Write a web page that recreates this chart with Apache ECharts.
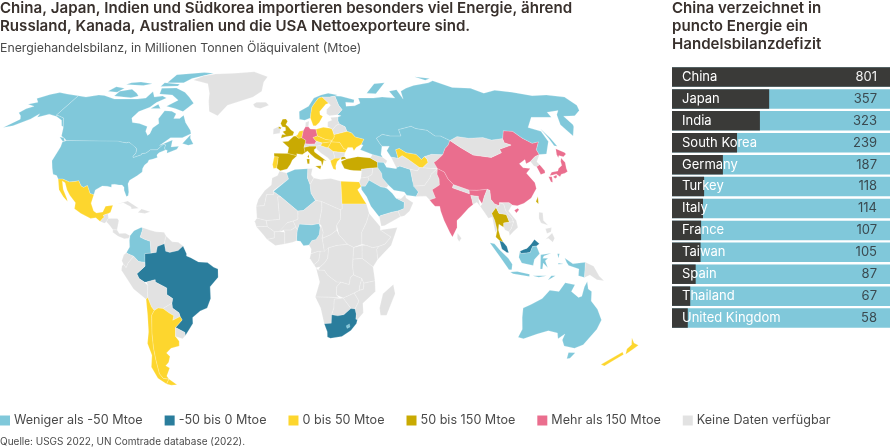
<!DOCTYPE html>
<html><head><meta charset="utf-8">
<style>html,body{margin:0;padding:0;background:#fff}#c{width:890px;height:448px}</style>
<script src="https://cdn.jsdelivr.net/npm/echarts@6/dist/echarts.min.js"></script>
</head><body><div id="c"></div>
<script>
// ---- chart data ----
const barCountries = ["China","Japan","India","South Korea","Germany","Turkey","Italy","France","Taiwan","Spain","Thailand","United Kingdom"];
const barValues = [801,357,323,239,187,118,114,107,105,87,67,58];
const classLabels = ["Weniger als -50 Mtoe","-50 bis 0 Mtoe","0 bis 50 Mtoe","50 bis 150 Mtoe","Mehr als 150 Mtoe","Keine Daten verfügbar"];
const classColors = ["#80c8da","#2a7d9c","#fdd62e","#c9aa02","#ea6e8e","#e2e2e2"];
const classBelow50 = ["Canada","USA","Colombia","Algeria","Nigeria","Russia","Kazakhstan","Saudi Arabia","Iran","Indonesia","Australia","Norway","Lesotho"];
const classMinus50to0 = ["Brazil","South Africa","Malaysia"];
const class0to50 = ["Mexico","Argentina","Chile","New Zealand","Egypt","Sweden","Poland","Ukraine","Romania","Hungary","Greece","Czechia","Benelux","Portugal","Uzbekistan"];
const class50to150 = ["France","United Kingdom","Italy","Spain","Turkey","Thailand","Taiwan"];
const classAbove150 = ["China","Japan","India","South Korea","Germany"];

// ---- country outlines, lon,lat ----
const outlines = {
USA:["-124.7,48.4 -123,49 -95.2,49 -94.6,48.7 -92,48.3 -89.5,48 -88.4,48.3 -84.9,46.9 -84.5,46.5 -83.5,46 -82.5,45.3 -82.1,43.6 -83,42.2 -82.7,41.7 -79,42.8 -79,43.3 -76.8,43.6 -75,45 -71.5,45 -70.3,46.2 -69.2,47.4 -67.8,47.1 -67.8,45.7 -67,44.9 -70,43.7 -70.7,42.7 -70,41.7 -72,41 -74,40.6 -74.2,39.5 -75.5,38.5 -76,37 -75.7,35.5 -77.8,33.9 -81,32 -81.4,30.5 -80.2,27 -80.2,25.5 -81,25.2 -82.7,27.8 -83,29.1 -84.2,30 -85.7,30 -88,30.3 -89.5,30.2 -89.3,29.1 -91.5,29.5 -94,29.6 -97,27.9 -97.2,25.9 -99.2,26.4 -101.4,29.8 -103.1,29 -104.5,29.6 -106.5,31.8 -108.2,31.5 -111,31.3 -114.8,32.5 -117.1,32.5 -118.5,34 -120.6,34.6 -122.4,37.2 -124.3,40.3 -124,44 -124,46.3",
"-141,69.6 -141,60.3 -139,60 -135,59 -130.5,55 -132,55.5 -135,58 -140,59.7 -146,60.8 -151,59.3 -152,61 -154,58.6 -160,55.5 -164.5,54.7 -160,58.5 -162,60 -165.5,61.5 -164,63.3 -161,64.5 -166.5,65.5 -162,66.5 -166,68.3 -161,70.3 -156.5,71.3 -150,70.5"],
Canada:["-141,69.6 -135,69 -128,70 -124,69.8 -115,68 -108,68 -100,68 -95,68.5 -94,71.8 -90,69 -85,69.5 -81.5,68.5 -86,66.3 -88,64 -93,62 -94.5,59 -92.5,57 -88,56.5 -82.5,55.2 -82,53 -79.8,51.2 -79,52 -79,54.5 -76.7,56.5 -78.5,58.7 -77.5,62.4 -73,62.2 -69.5,61 -69.5,58.8 -66,58.8 -64.5,60.3 -61.5,57 -57,53.5 -56,52 -60,50.2 -66.5,50.2 -71,46.8 -65,49.2 -64.5,46.2 -60.5,46.5 -61,45.2 -65.7,43.5 -66,44.8 -67,44.9 -67.8,45.7 -67.8,47.1 -69.2,47.4 -70.3,46.2 -71.5,45 -75,45 -76.8,43.6 -79,43.3 -79,42.8 -82.7,41.7 -83,42.2 -82.1,43.6 -82.5,45.3 -83.5,46 -84.5,46.5 -84.9,46.9 -88.4,48.3 -89.5,48 -92,48.3 -94.6,48.7 -95.2,49 -123,49 -125,50 -127.5,51 -130,54.5 -130.5,55 -135,59 -139,60 -141,60.3",
"-128,50.5 -125.5,50.2 -123.5,48.5 -125,48.8","-59,47.7 -56,51.5 -55.5,50 -53,47.5 -55.5,46.9","-62,66 -66,62 -72,63.5 -78,64.5 -73,67.5 -79,70 -88,70.5 -90,73.5 -80,73.7 -72,71.5 -67,69","-117,69.5 -105,68.7 -101,69.5 -104,71 -110,73 -117,72","-125,72 -118,71.5 -116,73.5 -123,74.3","-90,76.5 -78,76.5 -75,79 -62,82.5 -70,83 -90,81.5","-92,74.5 -80,74.7 -80,75.7 -92,76.6","-118,75.5 -105,75 -100,76 -110,77 -116,76.5","-87,63.5 -81,63.5 -84,65.5"],
Greenland:["-73,78.2 -60,76 -55,71 -53,67 -50,62 -44,60 -40,65 -25,69 -20,72 -20,77 -18,80 -30,83.5 -45,82.5 -60,82 -68,80.5"],
Mexico:["-117.1,32.5 -114.8,32.5 -111,31.3 -108.2,31.5 -106.5,31.8 -104.5,29.6 -103.1,29 -101.4,29.8 -99.2,26.4 -97.2,25.9 -97.8,22.3 -96,19 -94.5,18.2 -91.5,18.6 -90.5,21 -87,21.5 -87.7,18.5 -88.9,17.9 -91,17.2 -90.4,16.4 -91,16 -92.2,14.6 -94.5,16.2 -97,15.9 -102,18 -105.5,20 -105.5,22.5 -109,25.7 -111,27.9 -113,31 -114.7,31.7 -113,28.2 -110,24.2 -109.5,23 -112,25 -115,28"],
Guatemala:["-92.2,14.6 -91,16 -90.4,16.4 -91,17.2 -88.9,17.9 -88.3,15.9 -89.2,14.5 -90,13.8"],
Honduras:["-88.3,15.9 -84,15.8 -83.2,15 -83.7,11 -85.7,11.1 -87.5,13 -89.2,14.5"],
Panama:["-83.7,11 -82.5,9.5 -79.5,9.6 -77.3,8.6 -78,7.5 -80,7.3 -83,8.3 -85.7,10 -85.7,11.1"],
Cuba:["-85,22 -80,23.2 -74.2,20.2 -77.7,19.9 -78,20.7 -82,22.5"],
Hispaniola:["-74.4,18.4 -72.8,19.9 -68.4,18.7 -71,18"],
Colombia:["-77.3,8.6 -75.5,10.7 -72,12.2 -71.3,11.5 -72.4,8 -70,7 -67.5,6.2 -67,1.2 -69.9,1 -69.9,-4.3 -70,-2.7 -73,-2.3 -75.3,-0.1 -77.8,0.8 -78.8,1.4 -77.3,3.8 -77.5,6.5"],
Venezuela:["-72,12.2 -68,11 -65,10.2 -61,10 -60,8.5 -60.7,5.2 -64,4 -64.5,1.5 -67,1.2 -67.5,6.2 -70,7 -72.4,8 -71.3,11.5"],
Guyana:["-60,8.5 -57,6 -54,5.8 -51.7,4.2 -54,2.3 -58,1.5 -60,2 -60.7,5.2"],
Brazil:["-51.7,4.2 -50,1 -50,0 -48,-0.7 -44.3,-2.5 -40,-2.8 -37,-4.8 -35,-5.5 -35,-9 -39,-13 -39,-18 -41,-22 -44.5,-23.2 -48.5,-26 -48.7,-28.5 -53.4,-33.7 -53.3,-32.3 -57.6,-30.2 -53.8,-27 -54.6,-25.6 -55,-24 -58,-22 -58,-20 -57.5,-18 -60.2,-16.3 -60,-13.5 -65.3,-11 -65.3,-10 -69.5,-11 -70.6,-11 -73,-9.5 -74,-7.5 -69.9,-4.3 -69.9,1 -67,1.2 -64.5,1.5 -64,4 -60.7,5.2 -60,2 -58,1.5 -54,2.3"],
Ecuador:["-78.8,1.4 -77.8,0.8 -75.3,-0.1 -78,-3 -79,-5 -80.3,-3.4 -81,-2 -80,0.5"],
Peru:["-75.3,-0.1 -73,-2.3 -70,-2.7 -69.9,-4.3 -74,-7.5 -73,-9.5 -70.6,-11 -69,-12.5 -69.4,-15.5 -69.5,-17.5 -70.4,-18.3 -76,-14 -81.3,-6 -81,-4.3 -80.3,-3.4 -79,-5 -78,-3"],
Bolivia:["-69.5,-11 -65.3,-10 -65.3,-11 -60,-13.5 -60.2,-16.3 -57.5,-18 -58,-20 -62.6,-22.2 -65,-22 -67,-23 -68.2,-21.5 -69.5,-17.5 -69.4,-15.5 -69,-12.5"],
Paraguay:["-58,-20 -58,-22 -55,-24 -54.6,-25.6 -58.5,-27.2 -57.7,-25.3 -60,-24 -62.6,-22.2"],
Chile:["-70.4,-18.3 -69.5,-17.5 -68.2,-21.5 -67,-23 -68.5,-25 -70,-33 -71,-39 -71.7,-44 -72.5,-50 -71.5,-52 -68.5,-52.3 -71,-54.5 -74.5,-52 -75.5,-47 -73,-42 -73.5,-37 -71.5,-32 -70.5,-25"],
Argentina:["-65,-22 -62.6,-22.2 -60,-24 -57.7,-25.3 -58.5,-27.2 -54.6,-25.6 -53.8,-27 -57.6,-30.2 -58.4,-34 -57,-36 -57.5,-38 -62,-39 -65,-41 -63.7,-42.5 -65.3,-45 -67.5,-46.5 -65.8,-47.5 -69,-51 -68.5,-52.3 -71.5,-52 -72.5,-50 -71.7,-44 -71,-39 -70,-33 -68.5,-25 -67,-23","-68.5,-52.3 -65.2,-54.8 -68.6,-55 -71,-54.5"],
Uruguay:["-57.6,-30.2 -53.3,-32.3 -53.4,-33.7 -55,-35 -58.4,-34"],
Morocco:["-5.9,35.8 -2.2,35.1 -1.2,32.5 -8.7,27.7 -8.7,26 -12,26 -13,21.3 -17,21 -16,24 -13,27.7 -9.8,30 -9.5,33 -6.8,34"],
Algeria:["-2.2,35.1 2,36.6 8.6,36.9 8.3,33 9.5,30.2 9.9,26.5 12,23.5 6,19.2 3.3,19 -5,25 -8.7,27.3 -8.7,27.7 -1.2,32.5"],
Tunisia:["8.6,36.9 11,37 10.2,34.3 11.5,33 9.5,30.2 8.3,33"],
Libya:["11.5,33 15,32.3 20,32.8 25,31.6 25,20 24,19.5 15,23 12,23.5 9.9,26.5 9.5,30.2"],
Egypt:["25,31.6 31,31.4 34.2,31.3 34.9,29.5 33,28 35.5,24 36.9,22 25,22"],
Sudan:["25,22 36.9,22 38,18 36.5,14.3 34,10 34,5 30,3.6 27,5 23,9 22,13 24,15.7 24,19.5 25,20"],
Ethiopia:["36.5,14.3 38,18 43,12.5 43,11 48,8 45,5 41.9,4 39,3.5 36,4.5 34,5 34,10"],
Somalia:["43,11 51.2,12 48,4.5 41.5,-1.5 41,2.8 41.9,4 45,5 48,8"],
Kenya:["34,4.5 36,4.5 39,3.5 41.9,4 41,2.8 41.5,-1.5 39.3,-4.6 34,-1"],
Uganda:["30,3.6 34,4.5 34,-1 29.6,-1.4"],
Tanzania:["34,-1 39.3,-4.6 40.4,-10.5 35,-11.5 34,-9.5 30,-8 29.5,-4.5 29.6,-1.4"],
Mozambique:["40.4,-10.5 40.8,-15 35,-20 35.5,-24 32.8,-26.9 32,-26.7 32,-24.5 31.3,-22.4 33,-19 30.5,-15.6 33,-14.5 35,-14 35,-11.5"],
Malawi:["34,-9.5 35,-11.5 35,-14 33,-14.5 33,-13"],
Zimbabwe:["25.3,-17.8 30.5,-15.6 33,-19 31.3,-22.4 29.3,-22.2"],
Zambia:["22,-13 24,-11 28,-12 28.5,-9 30,-8 34,-9.5 33,-13 33,-14.5 30.5,-15.6 25.3,-17.8 22,-16.5"],
Angola:["12,-5 13,-5.9 16,-6 17.5,-8 22,-11 24,-11 22,-13 22,-16.5 23.4,-17.6 18,-17.4 11.8,-17.3 13.8,-11 12.3,-6"],
Namibia:["11.8,-17.3 18,-17.4 25.3,-17.8 21,-18.3 21,-22 20,-24.8 20,-28.4 16.5,-28.6 14.5,-22"],
Botswana:["21,-18.3 25.3,-17.8 29.3,-22.2 26,-24.8 23,-25.3 20,-24.8 21,-22"],
"South Africa":["16.5,-28.6 20,-28.4 20,-24.8 23,-25.3 26,-24.8 29.3,-22.2 31.3,-22.4 32,-24.5 32,-26.7 32.8,-26.9 32.5,-28.5 30,-31.5 25.7,-34 20,-34.8 18.4,-34.2 18.2,-32"],
Lesotho:["27.5,-29.5 29,-28.7 29.4,-30 28,-30.6"],
DRCongo:["13,-5.9 14,-4.5 16,-3 17.5,-1 18,3.5 22,4.5 27,5 30,3.6 29.6,-1.4 29.5,-4.5 30,-8 28.5,-9 28,-12 24,-11 22,-11 17.5,-8 16,-6"],
Gabon:["9.5,1 13,2 14,2 13.3,-2 11,-3.7 9,-1"],
Congo:["11,-3.7 13.3,-2 14,2 18,3.5 17.5,-1 16,-3 14,-4.5 12,-5"],
Cameroon:["8.6,4.7 9.7,3 9.5,1 13,2 16,2 15,7.5 15.5,10 14.5,13 14,12 13.5,9 12,7 10,6.5"],
CAR:["15,7.5 16,2 18,3.5 22,4.5 27,5 23,9 22,11 19,9"],
Chad:["14.5,13 15.5,10 15,7.5 19,9 22,11 22,13 24,15.7 24,19.5 15,23 15,20 13.5,13.7"],
Nigeria:["2.7,6.4 4.5,6.2 6,4.3 8.6,4.7 10,6.5 12,7 13.5,9 14,12 13.5,13.7 10,13.2 4,13.5 3,11 2.7,8"],
Niger:["4,13.5 10,13.2 13.5,13.7 15,20 15,23 12,23.5 6,19.2 3.3,19 3.3,15.5 1,14.8 2.3,12.3 3,11"],
Mali:["-12,15 -11.5,12.5 -8,10.2 -5.5,10.4 -3.5,11 -2,14 1,14.8 3.3,15.5 3.3,19 -5,25 -6.6,25 -5.5,15.5"],
Mauritania:["-16.5,16 -12,15 -5.5,15.5 -6.6,25 -5,25 -8.7,27.3 -8.7,26 -12,26 -13,21.3 -17,21"],
Senegal:["-16.5,16 -12,15 -11.5,12.5 -16.7,12.4 -17.5,14.7"],
Guinea:["-16.7,12.4 -11.5,12.5 -8,10.2 -8,7.6 -11.5,7 -13.3,9"],
IvoryCoast:["-11.5,7 -8,7.6 -8,10.2 -5.5,10.4 -3,10 -3,5.1 -7.5,4.4"],
Ghana:["-3,5.1 -3,10 -3.5,11 0,11 2.3,12.3 3,11 2.7,8 2.7,6.4 0.8,5.8"],
Burkina:["-5.5,10.4 -3.5,11 0,11 2.3,12.3 1,14.8 -2,14"],
Madagascar:["49.3,-12 50.4,-16 47,-25 44,-25 43.3,-22 44.5,-16"],
Turkey:["26,40 29,41 35,42 41.5,41.5 44.8,39.7 44.5,37.3 42,37.2 36,36.7 36,36 32,36.1 30,36.3 27.3,37 26.3,39","26,40.7 26.5,42 28,42 29,41.2"],
Syria:["36,36 36,36.7 42,37.2 41,34.4 38.8,33.4 36,33 35.2,33"],
Jordan:["35.2,33 36,33 38.8,33.4 39.2,32 37,29.5 34.9,29.5 34.2,31.3"],
Iraq:["42,37.2 44.5,37.3 46,35 46,33 48.5,30 47.7,29 46.5,29 44.7,29.2 39.2,32 38.8,33.4 41,34.4"],
"Saudi Arabia":["34.9,29.5 37,29.5 39.2,32 44.7,29.2 46.5,29 47.7,28.5 50,26.5 51.5,24.5 55.5,22.7 55,20 52,19 49,18.5 43.3,17 42.8,16.5 39,21 37.2,25 35,28"],
Oman:["51.5,24.5 54,24.2 56.3,26 56.5,24.5 59.8,22.5 57.7,19 55,17 53,16.6 52,19 55,20 55.5,22.7"],
Yemen:["43.3,17 49,18.5 52,19 53,16.6 45,12.8 43.5,12.7 42.8,16.5"],
Iran:["44.8,39.7 48,39.6 49,37.5 54,36.9 54,37.4 56,38 61,36.6 61,31.5 63,27 61.6,25.2 57,25.7 56,27 51,27.8 48.5,30 46,33 46,35 44.5,37.3"],
Caucasus:["41.5,41.5 43,43 48,41.8 50,40.3 49,39 48,39.6 44.8,39.7"],
Kazakhstan:["47,50 51,51.7 55,51 61,51 61,53.8 69,55.3 71,54.3 77,53.5 80,51 83,51 87,49 85,47 82.5,45.5 80,42.8 74,43 70,42 68,40.8 66,43 61,43.7 58,45.5 55.9,45 56,41.3 52.5,41.8 51,44.5 53,46.5 49,46.5 48,48"],
Turkmenistan:["52.5,41.8 56,41.3 58.5,42.5 61,41 66,37.4 64.5,36 61,36.6 56,38 54,37.4"],
Uzbekistan:["56,41.3 55.9,45 58,45.5 61,43.7 66,43 68,40.8 70,42 71,41 71,39.5 67.5,37.3 66,37.4 61,41 58.5,42.5"],
Kyrgyzstan:["70,42 74,43 80,42.8 76,40.5 74,39.5 75,37.2 71.5,37 67.5,37.3 71,39.5 71,41"],
Afghanistan:["61,36.6 64.5,36 66,37.4 67.5,37.3 71.5,37 75,37 71,34.5 70,33 66.5,29.8 61,29.5 61,31.5"],
Pakistan:["61,29.5 66.5,29.8 70,33 71,34.5 75,37 74,34.5 74.5,32.5 74,30 70,28 71,24.5 68,23.7 66.5,25.3 61.6,25.2 63,27"],
India:["74,30 74.5,32.5 74,34.5 75,37 78,35.5 79,32.5 81,30.2 80.2,28.8 88,26.3 88.2,27.9 92,27.8 97.3,28.2 95,25 93.5,22 92,24.5 92.2,25.2 88.5,25.6 88.7,24.5 89,21.8 86.5,20.2 82.3,16.6 80.2,15 80,12 77.5,8 76.3,10 74,15 72.8,19 72.6,21 70.3,21 69,22.4 68,23.7 71,24.5 70,28"],
Nepal:["81,30.2 80.2,28.8 88,26.3 88.2,27.9"],
Bangladesh:["88.5,25.6 92.2,25.2 92,24.5 92.3,21 91,22.7 89,21.8 88.7,24.5"],
China:["74,39.5 76,40.5 80,42.8 82.5,45.5 85,47 87,49 91,46 96,42.7 105,41.7 111.5,43.7 111.5,45.2 119,47 116,48 116.5,49.8 120,53.3 125,53 127.5,50 131,47.8 135,48.4 131,45 131,42.9 128,42 124.3,40 121.5,39 122,40.8 118,39 119,37.3 122.5,37 119.5,35 122,31 121.8,28.5 118,24.5 114,22.3 110.5,21.2 108,21.6 106.7,22.5 102,22.5 101.8,21.2 99.5,22 98,24 98.5,27.7 97.3,28.2 92,27.8 88.2,27.9 81,30.2 79,32.5 78,35.5 75,37","108.7,19.3 110.5,20.2 111,19.6 109.5,18.2"],
Mongolia:["87,49 91,46 96,42.7 105,41.7 111.5,43.7 111.5,45.2 119,47 116,48 116.5,49.8 110,49.2 106,50.3 98,50 92,50.7"],
Taiwan:["120,23 121.5,25.2 121,22"],
"North Korea":["124.3,40 128,42 131,42.9 130,42 127.5,39.8 128.3,38.6 126.2,37.7 125,38"],
"South Korea":["126.2,37.7 128.3,38.6 129.4,36 129,35.1 126.5,34.4"],
Japan:["130.9,34 132.5,35.4 136,35.9 137,37 139.5,38.3 140,40 141.3,41.4 142,39.5 141,37 140.8,35.7 139,35 137,34.6 135.8,33.5 134.5,34.7 132.5,34.2","130,33.5 131.7,33.5 131,31.2 130.2,31.3","132.3,33.5 134.3,34.2 134.2,33.3 133,32.8","140,41.6 140.2,43 141.7,45.4 145,43.8 145.3,43.2 143,42 141,42.5"],
Russia:["28,59.5 30,60 28,60.5 31.5,62.9 30,65 29,69.5 33,69.4 41,67.7 40,66.2 35,66.5 34.5,64.5 40,64.7 44,66 44,68.5 54,68.5 60,69 68,68.5 67,72 72.8,72.8 73,68 75,72 80,73.5 87,75 100,76.5 105,77.7 113,74 125,73.5 130,71 140,72.5 150,71.5 160,69.7 170,70 180,69 180,65 177,62.5 170,60 163,59.8 163,56 162,55 156.7,51 155.7,56 160,60.5 164,62.5 156,61.7 155,59.3 143,59.3 135.5,54.7 141,53 140.5,48.5 135,43.2 131,42.9 131,45 135,48.4 131,47.8 127.5,50 125,53 120,53.3 116.5,49.8 110,49.2 106,50.3 98,50 92,50.7 87,49 83,51 80,51 77,53.5 71,54.3 69,55.3 61,53.8 61,51 55,51 51,51.7 47,50 48,48 49,46.5 47.5,43 48,41.8 43,43 37,45 39,47 38,47.3 40,49.5 35.5,50.5 34,52.3 31.5,53 31,55 28,56.3 27.5,57.8","142,54.3 143,50 143.5,46.5 142,46.7 142,50","51,71 57,70.7 68,76.5 60,76","95,80 105,79 100,78"],
Norway:["5,58.5 5,62 11,64.5 15,68.5 20,70 25,71 31,70 29,69.5 25.5,69 20.5,69 18,68.5 15,66 13,64 12,61 11.5,59 8,58"],
Sweden:["11.5,59 12,61 13,64 15,66 18,68.5 20.5,69 24,66 22,65.5 17.5,62 17.5,60.5 19,59.8 16.5,57 14.3,55.5 12.8,55.5"],
Finland:["24,66 20.5,69 25.5,69 29,69.5 30,65 31.5,62.9 28,60.5 23,60 21.5,61 22,63 25,65"],
Denmark:["8.3,55 8.5,57 10.6,57.6 10,55"],
Iceland:["-24,65.5 -22,66.4 -16,66.5 -14,65 -19,63.4 -22.5,64"],
"United Kingdom":["-5.5,50 -5,51.6 -3,51.5 -4.7,52.8 -3,53.4 -3.2,54.8 -5,55 -6,56.5 -5,58.5 -3,58.6 -2,57.5 -3,56 -1.5,55 0,53.6 1.7,52.7 1,51.2 -3,50.6","-7,55.2 -5.5,54.6 -6,54 -7.5,54.3"],
Ireland:["-7,55.2 -7.5,54.3 -6,54 -6.3,52.2 -10,51.7 -10,54"],
France:["-1.8,43.4 -1.2,46 -4.7,48.4 -1.5,48.7 1.5,50.8 2.5,51 4.2,50 6,50.2 8.2,49 7.6,47.6 7,46 7.5,43.8 6,43 3,43.3 3.2,42.4","8.6,42 9.5,43 9.4,41.5"],
Benelux:["2.5,51 3.5,51.4 4.7,53 7,53.4 6,50.2 4.2,50"],
Germany:["7,53.4 8.3,55 10,55 11,54 14.2,53.9 14.7,51 12.2,50.3 13.8,48.7 13,47.5 10,47.4 7.6,47.6 8.2,49 6,50.2"],
Poland:["14.2,53.9 18.5,54.8 23,54.3 23.5,53.7 24,51.6 24,50.5 22.6,49 19,49.4 14.7,51"],
Czechia:["12.2,50.3 14.7,51 19,49.4 22.6,49 22,48.4 17,47.9 13.8,48.7"],
Austria:["7,46 7.6,47.6 10,47.4 13,47.5 13.8,48.7 17,47.9 16,46.8 13.7,46.5 10,46.5"],
Italy:["7,46 10,46.5 13.7,46.5 13.5,45.7 12.3,45 12.5,44 16,41.8 18.5,40.2 17,40.5 16.5,39 16,38 15.7,40 12.5,41.5 10.5,43 8.8,44.4 7.5,43.8","12.5,38 15.6,38.2 15,36.7","8.2,41 9.7,41 9.5,39 8.5,39"],
Spain:["-9,43.5 -1.8,43.4 3.2,42.4 0.7,40.6 -0.3,38.8 -2,36.8 -5.5,36 -7.4,37.2 -7,39.5 -6.7,41.9 -8.8,42"],
Portugal:["-8.8,42 -6.7,41.9 -7,39.5 -7.4,37.2 -9,37 -9.5,38.7"],
Balkans:["13.5,45.7 13.7,46.5 16,46.8 19,46 20,46 22.5,44.2 23,41.3 20.5,40.3 19.4,41.5 16,43.5 14,45"],
Hungary:["16,46.8 17,47.9 22,48.4 20,46 19,46"],
Romania:["22,48.4 26.5,48.2 28.2,45.5 29.7,45 28.6,43.7 22.5,44.2 20,46"],
Bulgaria:["22.5,44.2 28.6,43.7 28,42 26.5,42 26,41.3 23,41.3"],
Greece:["20.5,40.3 23,41.3 26,41.3 24,40 23,38 23,36.5 21.7,36.8 21,38.5"],
Ukraine:["22.6,49 24,50.5 24,51.6 31.5,53 34,52.3 35.5,50.5 40,49.5 38,47.3 35,46 33.5,44.5 33,46 30.5,46 29.7,45 28.2,45.5 26.5,48.2 22,48.4"],
Belarus:["24,51.6 23.5,53.7 26,55.7 28,56.3 31,55 31.5,53"],
Baltics:["21,55 23,54.3 23.5,53.7 26,55.7 28,56.3 27.5,57.8 28,59.5 23.5,59.2 24,58 21.5,57.3"],
Myanmar:["92.3,21 94.3,18 95.5,16 97.5,16.5 98.2,10 99.2,11 98.5,15 97.5,18 100,20.5 101.8,21.2 99.5,22 98,24 98.5,27.7 97.3,28.2 95,25 93.5,22"],
Thailand:["97.5,18 98.5,15 99.2,11 98.3,8 100,6.5 101.8,5.8 100.5,8 99.8,11 100.3,13.4 102.5,12.2 102.7,14 105.5,14.3 104.5,17.5 101,18 100,20.5"],
Laos:["100,20.5 101,18 104.5,17.5 105.5,14.3 107.5,14.5 107,16 104.5,19 104,22 102,22.5 101.8,21.2"],
Vietnam:["102,22.5 106.7,22.5 108,21.6 105.8,19 108.9,15 109.3,12 107,10.4 105,8.6 104.8,10.3 106,11.5 107.5,14.5 107,16 104.5,19 104,22"],
Cambodia:["102.5,12.2 103,11 104.8,10.3 106,11.5 107.5,14.5 105.5,14.3 102.7,14"],
Malaysia:["100,6.5 101.8,5.8 103.4,4 104.2,1.4 103.3,1.5 101,3","109.6,2 111.5,2.8 113,3.2 115,5 116.8,7 119,5.2 117.6,4.2 115.7,4 114.5,1.5 110,1"],
Indonesia:["109.6,2 110,1 114.5,1.5 115.7,4 117.6,4.2 119,1 116.5,-1.5 116,-4 110.5,-3 109,-0.5","95.3,5.6 97.5,5.2 100,2.5 104,-1 106,-3.5 105.8,-5.8 104.5,-5.8 100.5,-1","105.2,-6.8 108.5,-6.5 114.5,-7.7 114.5,-8.7 106.5,-7.5","119.5,-5.5 119.5,0.5 124.5,1.2 121,0 120.5,-1 123,-1 121.7,-2 123,-5 120.8,-3 120.5,-5.5","123.5,-10.3 127,-8.4 125,-8.4","116,-8.3 122.8,-8.3 119,-9","127.5,1 128.5,1 128,-1","128,-3 130.5,-3.4 128,-3.5","131,-0.8 135,-3.3 141,-2.6 141,-9.1 138,-8.3 138,-5.5 133,-4 132,-2.8"],
Papua:["141,-2.6 145,-4.3 148,-8.5 150.5,-10.5 147,-10 143.5,-8 141,-9.1"],
Philippines:["120.5,18.5 122.3,18.3 122,15 124,13 120.7,14 120,16","122,7 125.5,9.7 126.5,7.5 125.5,5.8 123.5,7.5","122.5,11.5 125.5,12 125,10.2 123,9.5"],
"Sri Lanka":["80,9.7 81.8,7.5 80.6,6 79.8,7.5"],
Australia:["113.5,-22 114,-26 115.7,-31 115,-34.3 118,-35 124,-33 129,-31.6 134,-32.5 135.5,-35 138,-33 138,-35.5 140.5,-38 146.5,-39 150,-37.5 153,-31 153.5,-27 150,-22.5 146,-19 145.3,-15 143.5,-14 142.5,-10.8 141.5,-13 141,-17 139.5,-17.5 135.5,-15 136.8,-12.2 132,-11.3 129.5,-15 125,-14.5 122,-18 117,-20.5","144.7,-40.8 148.3,-40.9 147.5,-43.3 146,-43.5"],
"New Zealand":["172.7,-34.5 175.5,-36.8 178.5,-37.7 177,-39.5 175.3,-41.6 173.8,-39.3 174.8,-37.5","172.7,-40.6 174.3,-41.7 171,-44.5 169,-46.6 166.5,-46 170,-43"]
};

// ---- Robinson projection, table at 5 degree steps ----
const PLEN=[1,.9986,.9954,.99,.9822,.973,.96,.9427,.9216,.8962,.8679,.835,.7986,.7597,.7186,.6732,.6213,.5722,.5322];
const PDFE=[0,.062,.124,.186,.248,.31,.372,.434,.4958,.5571,.6176,.6769,.7346,.7903,.8435,.8936,.9394,.9761,1];
const R=141.1, X0=291, Y0=256;
function tbl(t,a){const v=Math.min(Math.abs(a),89.999)/5,i=Math.floor(v);return t[i]+(t[i+1]-t[i])*(v-i);}
function project(p){const s=p[1]<0?-1:1;
  return [X0+0.8487*R*tbl(PLEN,p[1])*p[0]*Math.PI/180, Y0-s*1.3523*R*tbl(PDFE,p[1])];}
function unproject(q){const d=(Y0-q[1])/(1.3523*R),s=d<0?-1:1,a=Math.abs(d);let i=0;while(i<17&&PDFE[i+1]<a)i++;
  const lat=s*5*(i+(a-PDFE[i])/(PDFE[i+1]-PDFE[i]));return [(q[0]-X0)/(0.8487*R*tbl(PLEN,lat))*180/Math.PI,lat];}

const parseRing=s=>{const r=s.split(" ").map(t=>t.split(",").map(Number));r.push(r[0]);return r;};
const features=Object.keys(outlines).map(n=>({type:"Feature",properties:{name:n},
  geometry:{type:"MultiPolygon",coordinates:outlines[n].map(s=>[parseRing(s)])}}));
echarts.registerMap("world",{type:"FeatureCollection",features});

let x0=1e9,x1=-1e9,y0=1e9,y1=-1e9;
features.forEach(f=>f.geometry.coordinates.forEach(p=>p[0].forEach(c=>{const q=project(c);
  x0=Math.min(x0,q[0]);x1=Math.max(x1,q[0]);y0=Math.min(y0,q[1]);y1=Math.max(y1,q[1]);})));

const classes=[classBelow50,classMinus50to0,class0to50,class50to150,classAbove150];
const mapData=Object.keys(outlines).map(n=>{const i=classes.findIndex(c=>c.includes(n));return {name:n,value:i<0?5:i};});

const FONT="Inter";
const INK="#38302c";
const chart=echarts.init(document.getElementById("c"),null,{renderer:"canvas"});
chart.setOption({
  animation:false,
  textStyle:{fontFamily:FONT},
  title:[
    {text:"China, Japan, Indien und Südkorea importieren besonders viel Energie, ährend\nRussland, Kanada, Australien und die USA Nettoexporteure sind.",left:0,top:-1,padding:0,
      textStyle:{fontFamily:FONT,fontSize:15.1,fontWeight:600,color:INK,lineHeight:18.5}},
    {text:"Energiehandelsbilanz, in Millionen Tonnen Öläquivalent (Mtoe)",left:0,top:41,padding:0,
      textStyle:{fontFamily:FONT,fontSize:12.3,fontWeight:400,color:"#4a4a4a",lineHeight:15}},
    {text:"China verzeichnet in\npuncto Energie ein\nHandelsbilanzdefizit",left:672,top:-1,padding:0,
      textStyle:{fontFamily:FONT,fontSize:15.1,fontWeight:600,color:INK,lineHeight:18}},
    {text:"Quelle: USGS 2022, UN Comtrade database (2022).",left:0,top:435,padding:0,
      textStyle:{fontFamily:FONT,fontSize:10,fontWeight:400,color:"#4a4a4a",lineHeight:13}}
  ],
  visualMap:{type:"piecewise",seriesIndex:0,orient:"horizontal",left:0,top:414,padding:0,
    itemWidth:10,itemHeight:10,itemGap:22,textGap:4,itemSymbol:"rect",selectedMode:false,hoverLink:false,
    textStyle:{fontFamily:FONT,fontSize:12.6,color:"#4a4a4a"},
    pieces:classLabels.map((l,i)=>({value:i,label:l,color:classColors[i]}))},
  grid:{left:672,top:66,width:218,height:263,containLabel:false},
  xAxis:{type:"value",min:0,max:801,show:false},
  yAxis:[
    {type:"category",inverse:true,data:barCountries,z:6,axisLine:{show:false},axisTick:{show:false},splitLine:{show:false},
      axisLabel:{inside:true,margin:10,color:"#fff",fontSize:13,fontFamily:FONT}},
    {type:"category",inverse:true,position:"right",data:barValues.map(String),z:6,axisLine:{show:false},axisTick:{show:false},splitLine:{show:false},
      axisLabel:{inside:true,margin:13,fontSize:13,fontFamily:FONT,color:(v,i)=>i===0?"#f2f2f2":"#3a4a50"}}
  ],
  series:[
    {type:"map",map:"world",projection:{project,unproject},left:x0,top:y0,width:x1-x0,height:y1-y0,
      roam:false,silent:true,label:{show:false},emphasis:{disabled:true},select:{disabled:true},
      itemStyle:{areaColor:classColors[5],borderColor:"#fff",borderWidth:0.2},data:mapData},
    {type:"bar",yAxisIndex:0,data:barValues,barWidth:19.5,silent:true,showBackground:true,
      backgroundStyle:{color:classColors[0]},itemStyle:{color:"#3a3a38"}}
  ]
});
</script></body></html>
